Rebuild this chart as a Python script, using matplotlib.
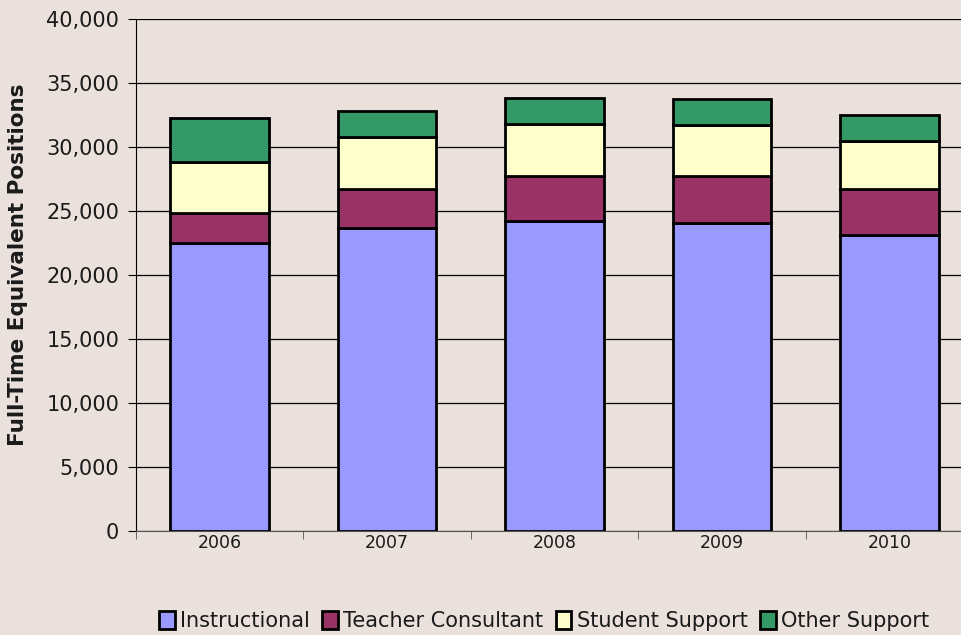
import numpy as np
import matplotlib.pyplot as plt
from matplotlib.ticker import FuncFormatter

# values (FTE positions)
years = ["2006", "2007", "2008", "2009", "2010"]
instructional = [22500, 23650, 24200, 24100, 23100]
teacher_consultant = [2340, 3070, 3540, 3670, 3600]
student_support = [3990, 4060, 4090, 3980, 3770]
other_support = [3440, 2060, 2030, 2030, 2030]

series_names = ["Instructional", "Teacher Consultant", "Student Support", "Other Support"]
colors = ["#9999FF", "#993366", "#FFFFCC", "#339966"]
bg = "#EAE1DC"
txt = "#1a1a1a"

fig = plt.figure(figsize=(9.62, 6.35), dpi=100, facecolor=bg)
ax = fig.add_axes([136 / 962, 104 / 635, 837 / 962, 512 / 635], facecolor=bg)

x = np.arange(len(years))
bottom = np.zeros(len(years))
handles = []
for vals, name, c in zip([instructional, teacher_consultant, student_support, other_support],
                         series_names, colors):
    b = ax.bar(x, vals, 0.59, bottom=bottom, color=c, edgecolor="black",
               linewidth=2, label=name, zorder=3)
    handles.append(b)
    bottom += np.array(vals)

ax.set_xlim(-0.5, len(years) - 0.5)
ax.set_ylim(0, 40000)
ax.set_yticks(np.arange(0, 40001, 5000))
ax.yaxis.set_major_formatter(FuncFormatter(lambda v, p: f"{int(v):,}"))
ax.grid(axis="y", color="black", linewidth=0.9, zorder=0)

# category labels without marks, marks at category boundaries
ax.set_xticks(x)
ax.set_xticklabels(years, fontsize=12.5, color=txt)
ax.tick_params(axis="x", length=0, pad=2)
ax.set_xticks(np.arange(-0.5, len(years), 1), minor=True)
ax.tick_params(axis="x", which="minor", length=6, color="#555555")
ax.tick_params(axis="y", labelsize=15, labelcolor=txt, length=6, color="black", pad=6)

for side in ["top", "right"]:
    ax.spines[side].set_visible(False)
ax.spines["left"].set_color("black")
ax.spines["bottom"].set_color("#555555")

ax.set_ylabel("Full-Time Equivalent Positions", fontsize=15.5, fontweight="bold", color=txt)
ax.yaxis.set_label_coords((28 - 136) / 837, (531 - 265) / 512)

leg = fig.legend(handles=handles, labels=series_names, loc="center",
                 bbox_to_anchor=(544 / 962, 1 - 621 / 635), ncol=4, frameon=False,
                 fontsize=15, handlelength=0.75, handleheight=1.0, handletextpad=0.25,
                 columnspacing=0.6, labelcolor=txt)
for h in leg.legend_handles:
    h.set_linewidth(2)

fig.savefig("out.png", dpi=100, facecolor=bg)
